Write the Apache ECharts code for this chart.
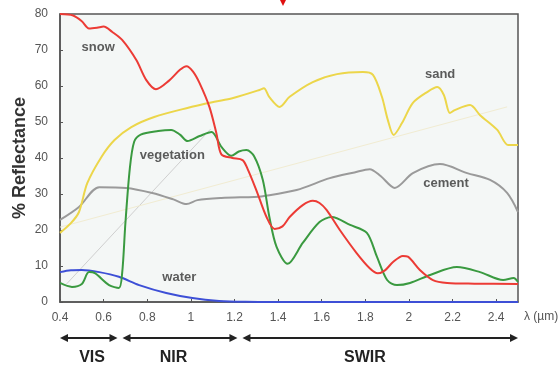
<!DOCTYPE html>
<html>
<head>
<meta charset="utf-8">
<script src="https://cdn.jsdelivr.net/npm/echarts@6/dist/echarts.min.js"></script>
<style>
  html, body { margin: 0; padding: 0; background: #ffffff; }
  #chart { width: 559px; height: 370px; }
</style>
</head>
<body>
<div id="chart"></div>
<script>
// Spectral reflectance curves, wavelength in µm vs % reflectance
const snow = [
  [0.4, 80], [0.46, 79.6], [0.5, 78], [0.533, 76], [0.57, 76.2], [0.6, 76.5], [0.64, 75],
  [0.685, 72.8], [0.75, 67.2], [0.795, 61.7], [0.84, 59.1], [0.9, 61.5], [0.95, 64.5],
  [0.98, 65.5], [1.01, 64], [1.04, 60.8], [1.085, 54.2], [1.117, 46.9], [1.14, 41],
  [1.19, 40], [1.237, 39.4], [1.26, 37], [1.3, 31.1], [1.347, 23.6], [1.384, 20.3],
  [1.42, 21], [1.453, 23.6], [1.513, 26.9], [1.559, 28.1], [1.59, 27.5], [1.623, 25.5],
  [1.683, 20], [1.76, 13.6], [1.82, 9.4], [1.857, 8.0], [1.89, 8.8], [1.927, 11.1],
  [1.972, 12.8], [1.995, 12.6], [2.05, 8.9], [2.11, 6.1], [2.175, 5.3], [2.3, 5.1], [2.5, 5]
];
const vegetation = [
  [0.4, 5.3], [0.455, 4.2], [0.5, 5], [0.533, 8.3], [0.56, 8], [0.625, 4.7], [0.67, 3.9],
  [0.685, 8], [0.7, 22], [0.72, 37], [0.74, 44.5], [0.77, 46.5], [0.85, 47.5], [0.91, 47.8],
  [0.95, 46.5], [0.985, 44.7], [1.04, 46.1], [1.095, 47.2], [1.14, 43.1], [1.186, 40.6],
  [1.22, 41.8], [1.255, 42.2], [1.29, 40.5], [1.33, 33.9], [1.36, 23.6], [1.393, 15.3],
  [1.444, 10.6], [1.513, 16.4], [1.59, 22.2], [1.646, 23.6], [1.73, 21.4], [1.807, 19.2],
  [1.853, 12.6], [1.9, 6.1], [1.945, 4.7], [2.005, 5.3], [2.097, 7.5], [2.22, 9.7],
  [2.326, 8.3], [2.432, 6.1], [2.48, 6.7], [2.5, 5.6]
];
const water = [
  [0.4, 8.3], [0.45, 8.8], [0.5, 8.9], [0.58, 8.3], [0.67, 7.0], [0.763, 4.7],
  [0.887, 2.5], [1.007, 1.1], [1.13, 0.3], [1.25, 0.05], [1.4, 0], [2.5, 0]
];
const sand = [
  [0.4, 19.2], [0.45, 21.9], [0.487, 25], [0.525, 33], [0.59, 40.3], [0.65, 45],
  [0.727, 48.6], [0.832, 51.4], [0.984, 53.9], [1.108, 55.6], [1.19, 56.6], [1.315, 58.9],
  [1.335, 59.4], [1.36, 56.9], [1.407, 54.2], [1.453, 57], [1.559, 61.1], [1.67, 63.3],
  [1.789, 63.9], [1.835, 63.1], [1.876, 57], [1.903, 50.6], [1.93, 46.4], [1.968, 49.7],
  [2.018, 55.3], [2.083, 58.3], [2.13, 59.7], [2.16, 57.5], [2.188, 52.5], [2.21, 53.3],
  [2.28, 54.7], [2.326, 51.9], [2.405, 47.8], [2.455, 43.6], [2.5, 43.6]
];
const cement = [
  [0.4, 22.8], [0.487, 26.4], [0.58, 31.9], [0.703, 31.7], [0.823, 30.3], [0.92, 28.5],
  [0.98, 27.2], [1.03, 28.3], [1.14, 28.9], [1.29, 29.2], [1.33, 29.4], [1.485, 31.1],
  [1.637, 34.4], [1.75, 36], [1.82, 36.9], [1.87, 35], [1.935, 31.7], [2.018, 35.8],
  [2.142, 38.3], [2.267, 35.8], [2.372, 33.9], [2.45, 30.3], [2.5, 25]
];
// faint straight reference lines
const grayGuide = [[0.43, 5], [1.09, 48]];
const sandGuide = [[0.4, 20.8], [2.45, 54.2]];

// curve labels: [text, wavelength, reflectance]
const curveLabels = [
  ['snow', 0.575, 70.6],
  ['vegetation', 0.915, 40.6],
  ['sand', 2.143, 63.1],
  ['cement', 2.17, 32.8],
  ['water', 0.947, 6.9]
];
// spectral bands: [name, start, end, label position]
const bands = [
  ['VIS', 0.4, 0.675, 0.547],
  ['NIR', 0.675, 1.225, 0.92],
  ['SWIR', 1.225, 2.5, 1.798]
];

const FONT = '"Liberation Sans", Arial, sans-serif';
const chart = echarts.init(document.getElementById('chart'), null, { renderer: 'canvas' });

function curve(name, data, color) {
  return {
    name, type: 'line', data, smooth: 0.3, showSymbol: false, silent: true,
    lineStyle: { color, width: 2 }, z: 3
  };
}
function guide(data, color) {
  return {
    type: 'line', data, showSymbol: false, silent: true,
    lineStyle: { color, width: 1 }, z: 2
  };
}

chart.setOption({
  animation: false,
  backgroundColor: '#ffffff',
  grid: {
    left: 60, right: 41, top: 14, bottom: 68, outerBoundsMode: 'none',
    show: true, backgroundColor: '#f4f7f6', borderColor: '#555', borderWidth: 1.5
  },
  xAxis: {
    type: 'value', min: 0.4, max: 2.5, interval: 0.2,
    axisLine: { lineStyle: { color: '#555', width: 1.5 } },
    axisTick: { inside: true, length: 3, lineStyle: { color: '#555' } },
    splitLine: { show: false },
    axisLabel: { color: '#555', fontSize: 12, fontFamily: FONT, margin: 10, showMaxLabel: false }
  },
  yAxis: {
    type: 'value', min: 0, max: 80, interval: 10,
    name: '% Reflectance', nameLocation: 'middle', nameRotate: 90, nameGap: 31,
    nameMoveOverlap: false,
    nameTextStyle: { color: '#333', fontSize: 18, fontWeight: 'bold', fontFamily: FONT },
    axisLine: { lineStyle: { color: '#555', width: 1.5 } },
    axisTick: { inside: true, length: 3, lineStyle: { color: '#555' } },
    splitLine: { show: false },
    axisLabel: { color: '#555', fontSize: 12, fontFamily: FONT, margin: 12 }
  },
  series: [
    guide(grayGuide, '#cfcfcf'),
    guide(sandGuide, '#f1ecd2'),
    curve('cement', cement, '#9a9a9a'),
    curve('sand', sand, '#ecd64a'),
    curve('water', water, '#3d4fd6'),
    curve('vegetation', vegetation, '#3a9a40'),
    curve('snow', snow, '#ec3b35'),
    {
      type: 'scatter', silent: true, symbolSize: 0, z: 5,
      data: curveLabels.map(d => ({ value: [d[1], d[2]], name: d[0] })),
      label: {
        show: true, position: 'inside', formatter: p => p.name,
        color: '#333', fontSize: 13, fontWeight: 'bold', fontFamily: FONT
      }
    }
  ]
});

// wavelength unit and band arrows under the axis
const g = [];
const xEnd = chart.convertToPixel({ xAxisIndex: 0 }, 2.5);
g.push({
  type: 'text', left: xEnd + 6, top: 311,
  style: { text: 'λ (µm)', fill: '#555', font: '12px ' + FONT }
});
const yArrow = 338, gap = 2.5, head = 8, half = 4;
bands.forEach(b => {
  const x0 = chart.convertToPixel({ xAxisIndex: 0 }, b[1]) + (b[1] > 0.4 ? gap : 0);
  const x1 = chart.convertToPixel({ xAxisIndex: 0 }, b[2]) - (b[2] < 2.5 ? gap : 0);
  const xl = chart.convertToPixel({ xAxisIndex: 0 }, b[3]);
  g.push({ type: 'line', shape: { x1: x0 + head - 1, y1: yArrow, x2: x1 - head + 1, y2: yArrow },
           style: { stroke: '#222', lineWidth: 2 } });
  g.push({ type: 'polygon', shape: { points: [[x0, yArrow], [x0 + head, yArrow - half], [x0 + head, yArrow + half]] },
           style: { fill: '#222' } });
  g.push({ type: 'polygon', shape: { points: [[x1, yArrow], [x1 - head, yArrow - half], [x1 - head, yArrow + half]] },
           style: { fill: '#222' } });
  g.push({ type: 'text', x: xl, y: 358,
           style: { text: b[0], fill: '#222', font: 'bold 16px ' + FONT, textAlign: 'center', textVerticalAlign: 'middle' } });
});
// small red pointer at the top edge
g.push({ type: 'polygon', shape: { points: [[280, 0], [286, 0], [283, 6]] }, style: { fill: '#e01010' } });
chart.setOption({ graphic: g });
</script>
</body>
</html>
